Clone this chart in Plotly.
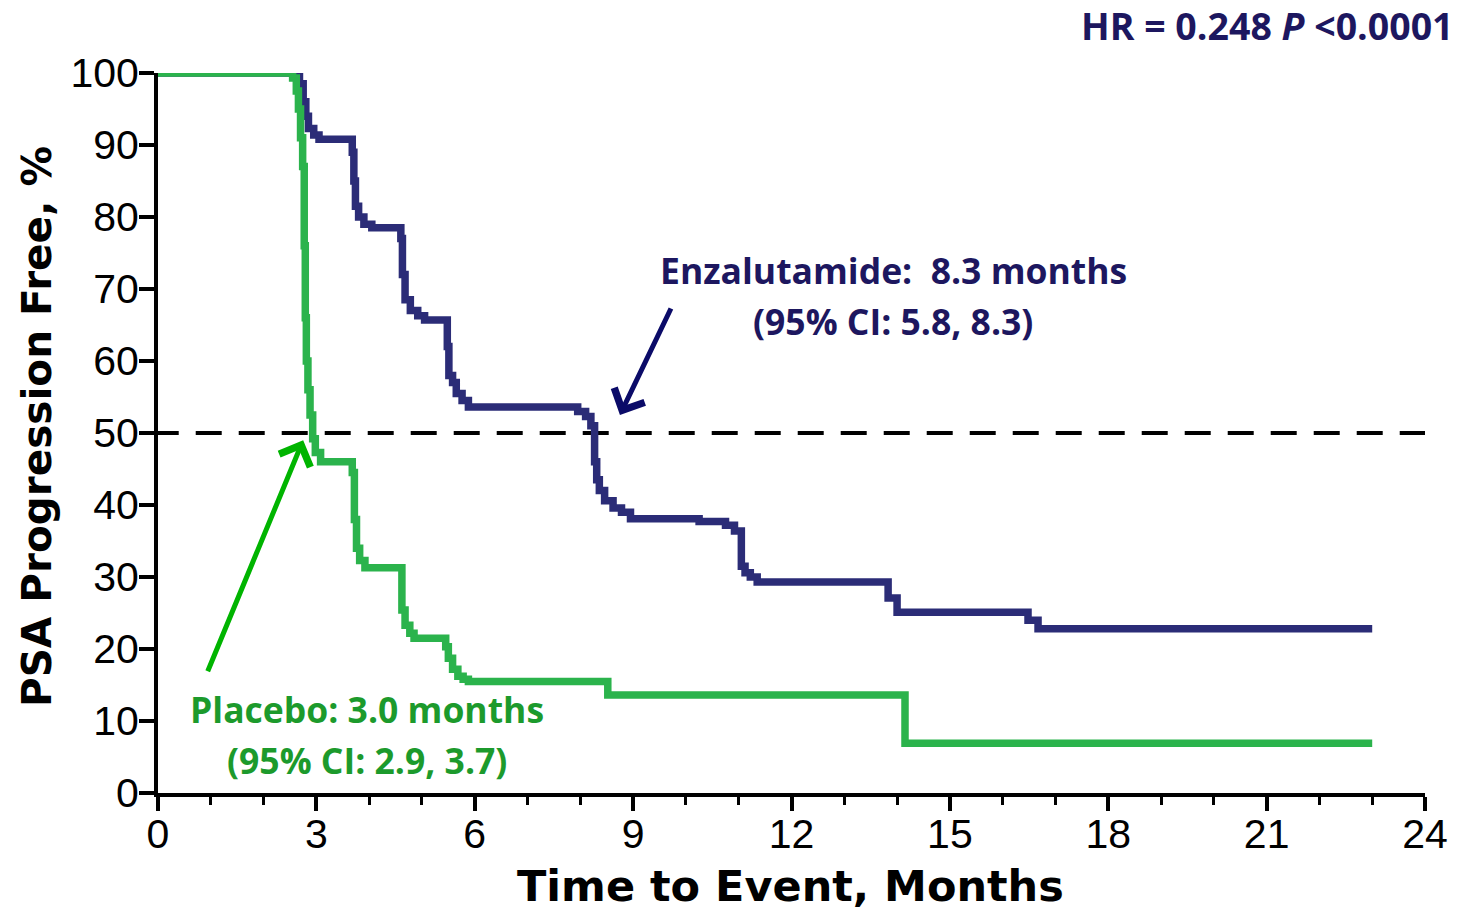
import plotly.graph_objects as go

# Kaplan-Meier style step curves: PSA progression-free (%) vs time (months)
enza_t = [0, 2.68, 2.75, 2.80, 2.85, 2.95, 3.05, 3.68, 3.71, 3.74, 3.80, 3.90, 4.05,
          4.60, 4.63, 4.68, 4.78, 4.92, 5.05, 5.48, 5.51, 5.58, 5.65, 5.76, 5.88,
          7.95, 8.10, 8.20, 8.27, 8.31, 8.36, 8.46, 8.62, 8.78, 8.95,
          10.25, 10.75, 10.92, 11.05, 11.12, 11.22, 11.35,
          13.83, 14.00, 16.48, 16.67, 23.0]
enza_s = [100, 98.5, 96, 94, 92.3, 91.4, 90.8, 89, 85, 81.5, 80, 79, 78.5,
          77, 72, 68.5, 67, 66.3, 65.7, 62, 58, 57, 55.5, 54.5, 53.6,
          53, 52.3, 51, 46, 43.5, 42, 40.6, 39.6, 39, 38.1,
          37.7, 37.2, 36.4, 31.5, 30.6, 30, 29.3,
          27.1, 25.1, 24.0, 22.8, 22.8]

plac_t = [0, 2.55, 2.62, 2.66, 2.70, 2.74, 2.77, 2.79, 2.81, 2.84, 2.88, 2.93, 2.98, 3.08,
          3.68, 3.72, 3.76, 3.82, 3.92,
          4.62, 4.68, 4.77, 4.85,
          5.45, 5.50, 5.58, 5.68, 5.78, 5.88,
          8.52, 14.15, 23.0]
plac_s = [100, 99.3, 97.5, 95, 91, 87, 76, 66, 60, 56, 52.5, 49.2, 47.3, 46,
          44.5, 38, 34, 32.3, 31.3,
          25.4, 23.3, 22.2, 21.5,
          20.3, 18.7, 17.2, 16.2, 15.8, 15.5,
          13.6, 6.9, 6.9]

x_ticks = [0, 3, 6, 9, 12, 15, 18, 21, 24]
y_ticks = [0, 10, 20, 30, 40, 50, 60, 70, 80, 90, 100]
median_level = 50

NAVY_LINE = "#2b2c77"
NAVY_TEXT = "#1d175f"
NAVY_ARROW = "#0b0b68"
GREEN_LINE = "#2bb34c"
GREEN_TEXT = "#1c9a2c"
GREEN_ARROW = "#00b400"

ANN_FONT = "Open Sans, Noto Sans, sans-serif"
AX_FONT = "Liberation Sans, Arial, sans-serif"
TITLE_FONT = "DejaVu Sans, Liberation Sans, sans-serif"

# plot-area geometry (px)
L, R, T, B = 158, 36, 73, 117
W, H = 1461, 910
PW, PH = W - L - R, H - T - B


def px(xp):
    return (xp - L) / PW


def py(yp):
    return (H - B - yp) / PH


fig = go.Figure()

fig.add_trace(go.Scatter(
    x=enza_t, y=enza_s, mode="lines", line_shape="hv",
    line=dict(color=NAVY_LINE, width=7.5), cliponaxis=False,
    showlegend=False, hoverinfo="skip"))
fig.add_trace(go.Scatter(
    x=plac_t, y=plac_s, mode="lines", line_shape="hv",
    line=dict(color=GREEN_LINE, width=7.5), cliponaxis=False,
    showlegend=False, hoverinfo="skip"))

# median reference line
fig.add_shape(type="line", xref="x", yref="y", x0=-0.1, x1=24, y0=median_level, y1=median_level,
              line=dict(color="black", width=4, dash="26px,17px"), layer="below")

annotations = [
    dict(text="Enzalutamide:  8.3 months", x=893, y=270, color=NAVY_TEXT),
    dict(text="(95% CI: 5.8, 8.3)", x=893, y=321, color=NAVY_TEXT),
    dict(text="Placebo: 3.0 months", x=367, y=709, color=GREEN_TEXT),
    dict(text="(95% CI: 2.9, 3.7)", x=367, y=760, color=GREEN_TEXT),
]
for a in annotations:
    fig.add_annotation(
        text="<b>%s</b>" % a["text"], xref="paper", yref="paper",
        x=px(a["x"]), y=py(a["y"]),
        xanchor="center", yanchor="middle", showarrow=False,
        font=dict(family=ANN_FONT, size=35.5, color=a["color"]))

fig.add_annotation(
    text="<b>HR = 0.248 <i>P</i> &lt;0.0001</b>", xref="paper", yref="paper",
    x=px(1456), y=py(25),
    xanchor="right", yanchor="middle", showarrow=False,
    font=dict(family=ANN_FONT, size=37.5, color=NAVY_TEXT))

# axis titles
fig.add_annotation(
    text="<b>Time to Event, Months</b>", xref="paper", yref="paper",
    x=px(790), y=py(886), xanchor="center", yanchor="middle", showarrow=False,
    font=dict(family=TITLE_FONT, size=43, color="black"))
fig.add_annotation(
    text="<b>PSA Progression Free, %</b>", xref="paper", yref="paper",
    x=px(37), y=py(427), xanchor="center", yanchor="middle", showarrow=False,
    textangle=-90, font=dict(family=TITLE_FONT, size=40.5, color="black"))

# arrows pointing at the medians
fig.add_annotation(x=8.75, y=52.5, ax=9.73, ay=67.5, xref="x", yref="y", axref="x", ayref="y",
                   text="", showarrow=True, arrowhead=4, arrowsize=1.3, arrowwidth=5,
                   arrowcolor=NAVY_ARROW, standoff=0)
fig.add_annotation(x=2.75, y=49.0, ax=0.93, ay=16.7, xref="x", yref="y", axref="x", ayref="y",
                   text="", showarrow=True, arrowhead=4, arrowsize=1.3, arrowwidth=5,
                   arrowcolor=GREEN_ARROW, standoff=0)

fig.update_xaxes(
    range=[0, 24], tickvals=x_ticks, ticktext=[str(v) for v in x_ticks],
    ticks="outside", ticklen=14, tickwidth=4, tickcolor="black",
    minor=dict(dtick=1, ticks="outside", ticklen=8, tickwidth=3, tickcolor="black"),
    showline=True, linewidth=4, linecolor="black", showgrid=False, zeroline=False,
    tickfont=dict(family=AX_FONT, size=41, color="black"),
    ticklabelstandoff=-12, automargin=False)
fig.update_yaxes(
    range=[0, 100], tickvals=y_ticks, ticktext=[str(v) for v in y_ticks],
    ticks="outside", ticklen=15, tickwidth=4, tickcolor="black",
    showline=True, linewidth=4, linecolor="black", showgrid=False, zeroline=False,
    tickfont=dict(family=AX_FONT, size=41, color="black"),
    ticklabelstandoff=-8, automargin=False)

fig.update_layout(
    width=W, height=H,
    margin=dict(l=L, r=R, t=T, b=B),
    paper_bgcolor="white", plot_bgcolor="white",
)

fig.write_html("out.html", config={"displayModeBar": False})
